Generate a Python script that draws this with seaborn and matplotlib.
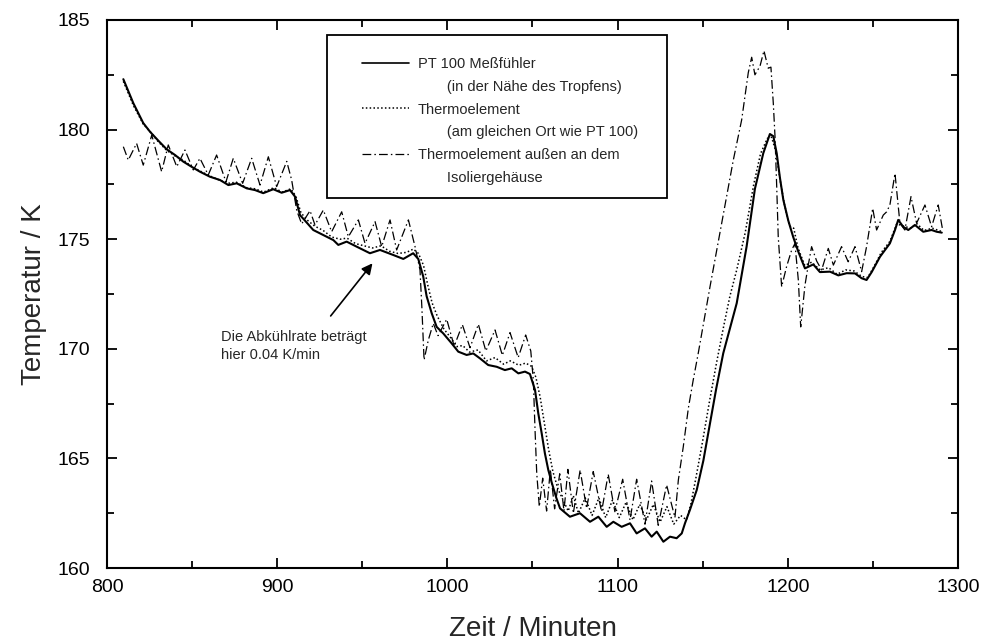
import numpy as np
import pandas as pd
import seaborn as sns
import matplotlib.pyplot as plt
from matplotlib.lines import Line2D
from matplotlib.patches import Rectangle
from matplotlib.ticker import MultipleLocator

sns.set_style('ticks')
plt.rcParams['font.family'] = ['Liberation Sans', 'DejaVu Sans']

# PT 100 Meßfühler (durchgezogen)
pt_zeit = [809.6, 815.5, 821.3, 825.3, 830.1, 835.1, 840.0, 844.8, 849.8, 854.6, 860.5, 866.4, 871.3, 876.2,
           882.1, 887.0, 891.8, 897.7, 902.6, 907.5, 910.5, 913.4, 916.3, 921.2, 927.1, 933.0, 935.9, 940.8,
           946.7, 954.5, 960.4, 968.2, 974.1, 979.9, 982.9, 985.8, 987.8, 990.8, 993.7, 997.6, 1002.5, 1006.4,
           1011.3, 1015.2, 1019.2, 1024.0, 1029.0, 1033.8, 1037.8, 1041.7, 1045.6, 1048.5, 1051.5, 1053.4,
           1055.4, 1057.3, 1059.3, 1061.3, 1064.0, 1066.2, 1072.0, 1077.9, 1083.8, 1088.7, 1093.6, 1097.5,
           1102.4, 1107.3, 1111.2, 1116.1, 1120.0, 1123.0, 1126.9, 1130.8, 1134.7, 1137.7, 1139.6, 1142.5,
           1146.5, 1150.4, 1154.3, 1158.0, 1162.1, 1170.0, 1175.8, 1180.7, 1185.6, 1189.5, 1191.5, 1193.5,
           1195.4, 1197.4, 1200.3, 1203.2, 1206.2, 1210.1, 1215.0, 1218.9, 1224.8, 1229.7, 1234.6, 1239.5,
           1243.4, 1246.3, 1249.3, 1254.2, 1260.0, 1263.0, 1264.9, 1267.8, 1270.8, 1274.7, 1279.6, 1284.5,
           1287.5, 1290.5]
pt_temp = [182.3, 181.2, 180.3, 179.9, 179.5, 179.1, 178.84, 178.54, 178.3, 178.08, 177.85, 177.7, 177.47, 177.55,
           177.32, 177.24, 177.1, 177.28, 177.12, 177.24, 176.94, 176.1, 175.85, 175.42, 175.19, 174.96, 174.74, 174.89,
           174.66, 174.36, 174.51, 174.28, 174.1, 174.36, 174.1, 173.3, 172.4, 171.62, 171.0, 170.7, 170.25, 169.87,
           169.72, 169.79, 169.56, 169.26, 169.18, 169.03, 169.11, 168.88, 168.96, 168.85, 168.12, 167.06,
           166.15, 165.23, 164.47, 163.9, 163.2, 162.72, 162.34, 162.5, 162.11, 162.34, 161.88, 162.11,
           161.88, 162.04, 161.58, 161.81, 161.43, 161.66, 161.2, 161.43, 161.36, 161.58, 162.04, 162.65,
           163.56, 164.9, 166.6, 168.2, 169.8, 172.08, 174.66, 177.3, 178.92, 179.8, 179.7, 178.92,
           177.8, 176.79, 175.85, 175.1, 174.43, 173.67, 173.85, 173.5, 173.52, 173.35, 173.45, 173.44,
           173.22, 173.14, 173.5, 174.2, 174.81, 175.42, 175.88, 175.57, 175.42, 175.65, 175.34, 175.42,
           175.34, 175.3]

# Thermoelement am gleichen Ort (gepunktet)
te_zeit = [809.6, 815.5, 821.3, 826, 830.1, 835.1, 840, 845, 850, 855, 860, 866, 871, 876, 882, 887, 892, 898,
           903, 908, 911, 914, 918, 922, 927, 932, 937, 941, 946, 951, 956, 961, 966, 971, 976, 980, 983, 986,
           988.5, 991, 994, 998, 1002, 1005.5, 1009, 1013, 1018, 1023, 1028, 1033, 1037, 1042, 1046, 1049.5,
           1052, 1054.5, 1057, 1059.5, 1062, 1065, 1068, 1071, 1074, 1077, 1081, 1085, 1089, 1093, 1097, 1101,
           1105, 1109, 1113, 1117, 1121, 1125, 1129, 1133, 1137, 1140.5, 1143, 1146, 1150, 1154, 1158, 1162,
           1166, 1170, 1175, 1180, 1184, 1188, 1190.5, 1193, 1195.5, 1198, 1201, 1203.5, 1206, 1210, 1214,
           1219, 1224, 1229, 1234, 1239, 1243.5, 1247, 1251, 1255, 1260, 1264, 1268, 1272, 1276, 1280, 1285,
           1290.5]
te_temp = [182.2, 181.1, 180.25, 179.85, 179.45, 179.05, 178.8, 178.6, 178.3, 178.1, 177.9, 177.7, 177.55, 177.6,
           177.35, 177.3, 177.15, 177.35, 177.15, 177.3, 176.95, 176.2, 175.85, 175.6, 175.4, 175.1, 175.0,
           175.05, 174.8, 174.7, 174.6, 174.7, 174.45, 174.35, 174.4, 174.55, 174.35, 173.8, 172.9, 172.1,
           171.5, 170.9, 170.5, 170.1, 170.15, 169.85, 169.95, 169.45, 169.6, 169.3, 169.45, 169.25, 169.35,
           169.2, 168.7, 167.8, 166.6, 165.4, 164.4, 163.6, 163.1, 162.6, 163.3, 162.5, 163.2, 162.4, 163.2,
           162.3, 163.1, 162.3, 163.0, 162.2, 162.9, 162.2, 162.9, 162.1, 162.8, 162.0, 162.4, 162.2, 162.9,
           164.1, 165.8, 167.6, 169.3, 170.9, 172.4, 173.6, 175.3, 177.5, 178.9, 179.6, 179.65, 179.0, 177.7,
           176.6, 175.6, 175.5, 174.6, 173.8, 173.95, 173.6, 173.7, 173.4, 173.6, 173.55, 173.3, 173.25,
           173.8, 174.4, 174.9, 175.7, 175.6, 175.5, 175.7, 175.4, 175.5, 175.35]

# Thermoelement außen am Isoliergehäuse (strichpunktiert)
aussen_zeit = [809.6, 812.5, 817.4, 821.3, 826.3, 832.1, 836.0, 841.0, 845.8, 850.7, 854.6, 859.5, 864.4, 869.9,
               874.2, 879.7, 885.0, 889.9, 894.8, 899.7, 905.6, 908.5, 911.5, 914.4, 919.3, 922.2, 927.1, 932.0,
               937.9, 941.8, 947.7, 951.6, 957.5, 961.4, 966.3, 970.2, 977.1, 981.0, 983.9, 985.0, 986.3, 988.8,
               991.7, 994.5, 999.6, 1004.0, 1008.8, 1013.3, 1018.2, 1022.6, 1028.0, 1032.3, 1036.8, 1041.6,
               1046.0, 1049.0, 1050.5, 1051.5, 1052.5, 1054.0, 1056.0, 1058.3, 1060.5, 1063.0, 1066.0, 1068.5,
               1070.8, 1074.0, 1078.0, 1081.8, 1085.7, 1090.6, 1094.5, 1098.4, 1103.0, 1107.3, 1111.2, 1116.1,
               1120.0, 1123.9, 1128.8, 1133.7, 1135.7, 1138.6, 1141.6, 1144.5, 1147.4, 1154.3, 1161.2, 1168.0,
               1172.9, 1176.8, 1178.8, 1180.7, 1183.7, 1186.0, 1188.5, 1190.1, 1191.5, 1192.5, 1193.5, 1194.4,
               1196.4, 1199.3, 1202.3, 1204.2, 1206.2, 1207.6, 1210.1, 1212.0, 1214.0, 1217.0, 1219.9, 1223.8,
               1226.8, 1231.6, 1235.5, 1239.5, 1243.4, 1246.3, 1249.9, 1252.2, 1256.1, 1258.1, 1260.0, 1263.0,
               1265.9, 1268.8, 1272.4, 1275.7, 1280.6, 1284.5, 1288.4, 1291.0]
aussen_temp = [179.22, 178.61, 179.37, 178.38, 179.75, 178.08, 179.30, 178.31, 179.07, 178.16, 178.69, 177.93,
               178.84, 177.62, 178.69, 177.55, 178.69, 177.47, 178.76, 177.40, 178.55, 177.70, 176.30, 175.70,
               176.30, 175.65, 176.33, 175.34, 176.25, 175.11, 175.88, 174.81, 175.80, 174.66, 175.88, 174.51,
               175.88, 174.66, 173.60, 171.90, 169.49, 170.40, 171.16, 170.60, 171.35, 170.12, 171.10, 170.05,
               171.12, 169.90, 170.86, 169.70, 170.74, 169.60, 170.63, 169.90, 168.58, 166.30, 164.32, 162.80,
               164.10, 162.60, 164.50, 162.70, 164.30, 162.60, 164.50, 162.50, 164.47, 162.72, 164.40, 162.57,
               164.28, 162.57, 164.05, 162.19, 164.05, 162.00, 163.97, 161.95, 163.79, 162.30, 164.01, 165.53,
               167.30, 168.60, 169.80, 172.83, 175.73, 178.61, 180.44, 182.60, 183.30, 182.50, 182.90, 183.60,
               182.80, 182.85, 181.20, 179.68, 177.40, 175.11, 172.83, 173.75, 174.51, 174.80, 173.14, 171.00,
               172.90, 173.80, 174.66, 174.00, 173.60, 174.58, 173.82, 174.66, 173.97, 174.66, 173.52, 174.66,
               176.41, 175.42, 176.10, 176.25, 176.56, 178.00, 175.73, 175.42, 176.94, 175.73, 176.56, 175.57,
               176.56, 175.42]

fig = plt.figure(figsize=(9.88, 6.43), dpi=100)
ax = fig.add_axes([0.1083, 0.1166, 0.8613, 0.8523])

dash_dot = (0, (7, 2.5, 1.2, 2.5))
sns.lineplot(x=aussen_zeit, y=aussen_temp, ax=ax, color='black', lw=0.9, linestyle=dash_dot,
             sort=False, estimator=None)
sns.lineplot(x=te_zeit, y=te_temp, ax=ax, color='black', lw=1.1, linestyle=(0, (1, 1.5)),
             sort=False, estimator=None)
sns.lineplot(x=pt_zeit, y=pt_temp, ax=ax, color='black', lw=1.5, sort=False, estimator=None)

ax.set_xlim(800, 1300)
ax.set_ylim(160, 185)
ax.xaxis.set_major_locator(MultipleLocator(100))
ax.xaxis.set_minor_locator(MultipleLocator(50))
ax.yaxis.set_major_locator(MultipleLocator(5))
ax.yaxis.set_minor_locator(MultipleLocator(2.5))
ax.tick_params(which='both', direction='in', top=True, right=True, width=1.3, colors='black')
ax.tick_params(which='major', length=7, labelsize=14)
ax.tick_params(axis='y', which='major', pad=12)
ax.tick_params(axis='x', which='major', pad=8)
ax.tick_params(which='minor', length=5)
for s in ax.spines.values():
    s.set_linewidth(1.5)
    s.set_color('black')

ax.set_xlabel('Zeit / Minuten', fontsize=20)
ax.set_ylabel('Temperatur / K', fontsize=20)
ax.xaxis.set_label_coords(0.5, -0.088)
ax.yaxis.set_label_coords(-0.07, 0.5)

# Legende mit eigenem Rahmen
ax.add_patch(Rectangle((0.2585, 0.675), 0.3995, 0.2976, transform=ax.transAxes, fill=False,
                       edgecolor='black', lw=1.3, zorder=5))
leer = Line2D([], [], color='none')
handles = [Line2D([], [], color='black', lw=1.2), leer,
           Line2D([], [], color='black', lw=1.1, linestyle=(0, (1, 1.5))), leer,
           Line2D([], [], color='black', lw=0.9, linestyle=dash_dot), leer]
labels = ['PT 100 Meßfühler', '       (in der Nähe des Tropfens)',
          'Thermoelement', '       (am gleichen Ort wie PT 100)',
          'Thermoelement außen an dem', '       Isoliergehäuse']
ax.legend(handles, labels, loc='upper left', bbox_to_anchor=(0.300, 0.933), frameon=False,
          fontsize=10.5, handlelength=3.2, handletextpad=0.6, labelspacing=0.61, borderpad=0,
          borderaxespad=0)

ax.annotate('', xy=(957, 174.0), xytext=(930.4, 171.4),
            arrowprops=dict(arrowstyle='-|>', color='black', lw=1.2, mutation_scale=16))
ax.text(867, 170.13, 'Die Abkühlrate beträgt\nhier 0.04 K/min', fontsize=10.5, ha='left', va='center',
        linespacing=1.3)

plt.savefig('out.png', dpi=100)
